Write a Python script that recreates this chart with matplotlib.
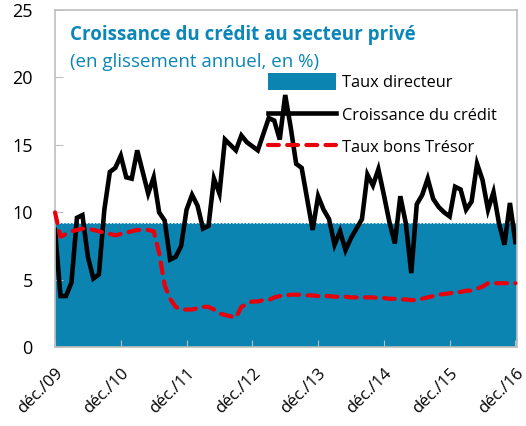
import matplotlib
matplotlib.use("Agg")
import matplotlib.pyplot as plt
import numpy as np

# monthly values, dec/09 .. dec/16
credit = [8.7, 3.8, 3.8, 4.8, 9.6, 9.8, 6.7, 5.1, 5.4, 10.2,
          13.0, 13.3, 14.2, 12.6, 12.5, 14.6, 13.0, 11.4, 12.6, 10.0,
          9.4, 6.5, 6.7, 7.5, 10.2, 11.3, 10.5, 8.8, 9.0, 12.5,
          11.4, 15.4, 15.0, 14.6, 15.7, 15.2, 14.9, 14.6, 15.8, 17.0,
          16.8, 15.4, 18.7, 16.3, 13.6, 13.3, 11.0, 8.7, 11.2, 10.2,
          9.5, 7.6, 8.6, 7.2, 8.1, 8.8, 9.5, 12.8, 12.0, 13.2,
          11.3, 9.3, 7.7, 11.2, 9.2, 5.5, 10.6, 11.3, 12.5, 11.0,
          10.4, 10.0, 9.7, 11.9, 11.7, 10.2, 10.8, 13.6, 12.4, 10.2,
          11.5, 9.2, 7.6, 10.7, 7.8]

tresor = [10.0, 8.2, 8.4, 8.6, 8.7, 8.8, 8.8, 8.7, 8.6, 8.5,
          8.4, 8.3, 8.4, 8.5, 8.6, 8.7, 8.7, 8.7, 8.6, 7.0,
          4.6, 3.6, 3.0, 2.8, 2.8, 2.8, 2.9, 3.0, 3.0, 2.8,
          2.5, 2.4, 2.3, 2.2, 3.0, 3.2, 3.4, 3.4, 3.5, 3.5,
          3.7, 3.8, 3.85, 3.9, 3.9, 3.9, 3.85, 3.85, 3.8, 3.8,
          3.8, 3.75, 3.75, 3.75, 3.7, 3.7, 3.7, 3.7, 3.7, 3.65,
          3.65, 3.6, 3.6, 3.55, 3.55, 3.5, 3.5, 3.6, 3.7, 3.8,
          3.9, 3.95, 4.0, 4.1, 4.1, 4.2, 4.2, 4.35, 4.5, 4.75,
          4.75, 4.75, 4.75, 4.75, 4.75]

taux_directeur = [9.25] * len(credit)

tick_labels = ["déc./09", "déc./10", "déc./11", "déc./12",
               "déc./13", "déc./14", "déc./15", "déc./16"]

blue = "#0B84B1"
grey = "#BFBFBF"

plt.rcParams["font.family"] = ["Open Sans", "DejaVu Sans"]

x = np.arange(len(credit))

fig = plt.figure(figsize=(5.26, 4.26), dpi=100)
ax = fig.add_axes([0.1046, 0.1847, 0.8784, 0.7918])

bars = ax.bar(x, taux_directeur, width=1.0, color=blue, linewidth=0,
              label="Taux directeur", zorder=1)
ax.plot(x, taux_directeur, color="#cfe6f0", lw=0.7, ls=(0, (2, 1.5)),
        zorder=1.5)
line_credit, = ax.plot(x, credit, color="black", lw=3.3,
                       solid_joinstyle="miter",
                       label="Croissance du crédit", zorder=2)
line_tresor, = ax.plot(x, tresor, color="#E8000B", lw=3.0,
                       ls=(0, (2.6, 2.0)), dash_capstyle="round",
                       label="Taux bons Trésor", zorder=3, clip_on=False)

ax.set_xlim(0, 84.3)
ax.set_ylim(0, 25)
ax.set_yticks([0, 5, 10, 15, 20, 25])
ax.set_xticks(np.arange(0, 85, 12))
ax.set_xticklabels(tick_labels, rotation=45, ha="right",
                   rotation_mode="anchor", fontsize=12)
ax.tick_params(axis="y", labelsize=13, direction="in", length=6,
               color=grey, pad=16)
ax.tick_params(axis="x", direction="in", length=5, color=grey, pad=13)
for s in ax.spines.values():
    s.set_color(grey)
    s.set_linewidth(1.2)

ax.text(0.032, 0.955, "Croissance du crédit au secteur privé",
        transform=ax.transAxes, color="#0A86B8", fontsize=13.5,
        fontweight="bold", va="top", ha="left")
ax.text(0.032, 0.872, "(en glissement annuel, en %)",
        transform=ax.transAxes, color="#0A86B8", fontsize=13.5,
        va="top", ha="left")

ax.legend([bars, line_credit, line_tresor],
          ["Taux directeur", "Croissance du crédit", "Taux bons Trésor"],
          loc="upper left", bbox_to_anchor=(0.462, 0.812), frameon=False,
          fontsize=11.8, handlelength=4.1, handleheight=1.2,
          handletextpad=0.4, labelspacing=0.88, borderpad=0,
          borderaxespad=0)

fig.savefig("out.png", dpi=100)
